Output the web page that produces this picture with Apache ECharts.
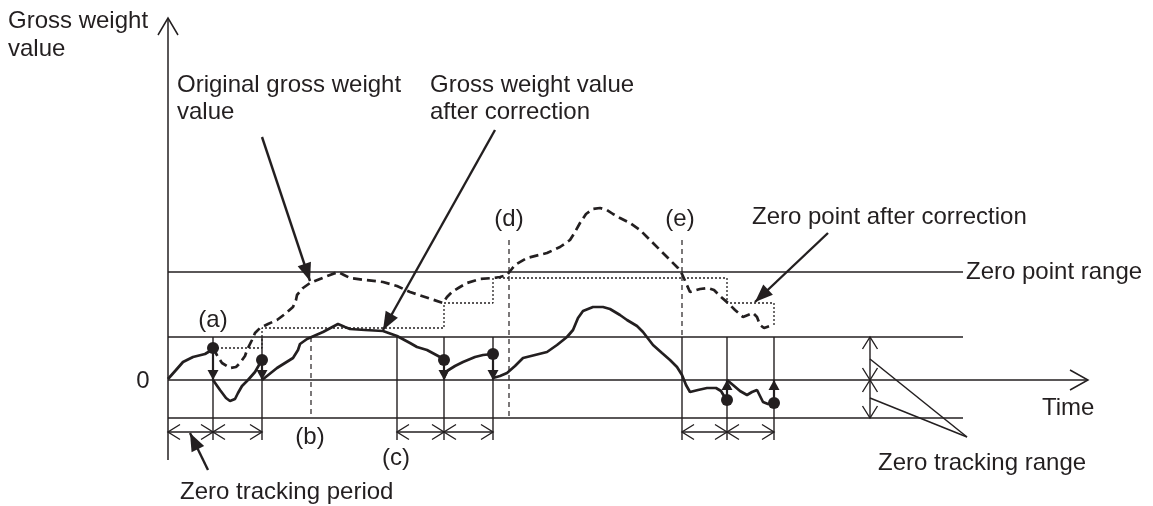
<!DOCTYPE html>
<html>
<head>
<meta charset="utf-8">
<script src="https://cdn.jsdelivr.net/npm/echarts@6/dist/echarts.min.js"></script>
<style>
  html, body { margin: 0; background: #fff; }
  #chart { width: 1153px; height: 506px; }
</style>
</head>
<body>
<div id="chart"></div>
<script>
// schematic diagram: no real units, so time / weight live in a page-sized space
const INK = '#231f20';
const FONT = '"Liberation Sans", Arial, sans-serif';

// horizontal reference levels (zero point range, tracking upper, tracking lower)
const levelY = [272, 337, 418];
const zeroLevel = 380;
const axisLeft = 168;
const levelRight = 963;

// zero tracking periods
const trackingBounds = [213, 262, 397, 444, 493, 682, 727, 774];
const periodStarts = [168, 213, 397, 444, 682, 727];
const periodEnds = [213, 262, 444, 493, 727, 774];

// gross weight value after correction (solid), one piece per tracking step
const correctedSegments = [
  [[168,379],[176,370],[183,362],[193,357],[205,354],[210,351],[213,348]],
  [[213,380],[220,390],[226,398],[230,401],[235,399],[238,393],[242,386],[248,380],[255,372],[259,365],[262,360]],
  [[262,380],[277,368],[293,358],[298,350],[300,344],[307,339],[323,332],[338,324],[345,327],[350,329],[365,330],
   [383,331],[397,336],[410,343],[417,347],[427,350],[440,357],[444,360]],
  [[444,378],[447,371],[455,366],[463,362],[475,357],[483,355],[493,354]],
  [[493,378],[500,376],[507,373],[515,366],[523,358],[535,355],[547,352],[557,345],[567,337],[573,330],[578,318],
   [583,311],[593,307],[603,307],[610,309],[620,315],[627,320],[637,326],[643,332],[653,345],[662,353],[670,360],
   [677,367],[682,375],[686,385],[690,392],[698,390],[707,388],[716,388],[721,391],[724,396],[727,400]],
  [[727,380],[733,385],[740,391],[747,395],[752,392],[757,390],[760,396],[763,402],[768,404],[774,403]]
];

// original gross weight value (dashed)
const originalCurve = [
  [213,348],[218,357],[222,363],[230,368],[236,367],[240,363],[245,356],[247,350],[252,340],[255,333],[260,328],
  [268,324],[277,320],[285,314],[293,307],[296,300],[297,295],[303,288],[310,283],[320,279],[330,275],[338,272],
  [344,275],[350,278],[365,280],[383,282],[397,286],[410,292],[425,297],[443,303],[447,297],[452,292],[460,287],
  [467,283],[480,279],[493,278],[500,277],[507,275],[511,270],[515,265],[527,258],[547,253],[560,247],[570,240],
  [575,232],[580,223],[586,214],[593,209],[600,208],[607,210],[613,214],[620,218],[630,223],[640,230],[647,237],
  [653,243],[662,252],[670,260],[678,268],[682,274],[686,283],[690,292],[700,289],[708,288],[714,290],[720,296],
  [728,303],[735,310],[743,317],[748,315],[753,313],[757,317],[760,325],[764,328],[767,327],[773,325]
];

// zero point after correction (dotted steps)
const zeroPointSteps = [
  [213,348],[262,348],[262,328],[444,328],[444,303],[493,303],[493,278],[727,278],[727,303],[774,303],[774,325]
];

// where tracking happens: weight value before correction
const trackDots = [[213,348],[262,360],[444,360],[493,354],[727,400],[774,403]];

// dashed markers (b), (d), (e): [t, top, bottom]
const markerLines = [[311,337,418],[509,240,418],[682,240,337]];

// annotation pointers: [fromT, fromW, toT, toW]
const leaders = [[262,137,310,281],[495,130,383,330],[828,233,755,302],[208,470,190,433]];
const rangeLeaders = [[870,359,967,437],[870,398,967,437]];
const rangeArrowT = 870;

const labels = [
  ['Gross weight', 8, 21, 'left'],
  ['value', 8, 49, 'left'],
  ['Original gross weight', 177, 85, 'left'],
  ['value', 177, 112, 'left'],
  ['Gross weight value', 430, 85, 'left'],
  ['after correction', 430, 112, 'left'],
  ['(a)', 213, 320, 'center'],
  ['(b)', 310, 437, 'center'],
  ['(c)', 396, 458, 'center'],
  ['(d)', 509, 219, 'center'],
  ['(e)', 680, 219, 'center'],
  ['Zero point after correction', 752, 217, 'left'],
  ['Zero point range', 966, 272, 'left'],
  ['0', 143, 381, 'center'],
  ['Time', 1042, 408, 'left'],
  ['Zero tracking range', 878, 463, 'left'],
  ['Zero tracking period', 180, 492, 'left']
];

function head(tip, from, kind, len, half, width) {
  const dx = tip[0] - from[0], dy = tip[1] - from[1];
  const d = Math.hypot(dx, dy) || 1;
  const ux = dx / d, uy = dy / d;
  const bx = tip[0] - ux * len, by = tip[1] - uy * len;
  const l = [bx - uy * half, by + ux * half];
  const r = [bx + uy * half, by - ux * half];
  if (kind === 'open') {
    return { type: 'polyline', shape: { points: [l, tip, r] }, style: { stroke: INK, lineWidth: width, fill: null } };
  }
  return { type: 'polygon', shape: { points: [l, tip, r] }, style: { fill: INK } };
}

function segSeries(data, opt) {
  return {
    type: 'custom',
    silent: true,
    z: opt.z || 2,
    data: data,
    renderItem: function (params, api) {
      const a = api.coord([api.value(0), api.value(1)]);
      const b = api.coord([api.value(2), api.value(3)]);
      const children = [{
        type: 'line',
        shape: { x1: a[0], y1: a[1], x2: b[0], y2: b[1] },
        style: { stroke: INK, lineWidth: opt.width || 1.4, lineDash: opt.dash || null }
      }];
      if (opt.end) children.push(head(b, a, opt.end, opt.len, opt.half, opt.width || 1.4));
      if (opt.start) children.push(head(a, b, opt.start, opt.len, opt.half, opt.width || 1.4));
      return { type: 'group', children: children };
    }
  };
}

const chart = echarts.init(document.getElementById('chart'));

const series = [];

// reference levels
series.push(segSeries(levelY.map(y => [axisLeft, y, levelRight, y]), { width: 1.4 }));
// tracking boundaries
series.push(segSeries(trackingBounds.map(t => [t, levelY[1], t, 440]), { width: 1.4 }));
// dashed markers
series.push(segSeries(markerLines.map(m => [m[0], m[1], m[0], m[2]]), { width: 1.2, dash: [5, 4] }));
// axes
series.push(segSeries([[axisLeft, 460, axisLeft, 18]], { width: 1.5, end: 'open', len: 17, half: 10 }));
series.push(segSeries([[axisLeft, zeroLevel, 1088, zeroLevel]], { width: 1.5, end: 'open', len: 18, half: 10 }));
// zero tracking period arrows
series.push(segSeries(periodStarts.map((s, i) => [s, 432, periodEnds[i], 432]),
  { width: 1.4, start: 'open', end: 'open', len: 12, half: 7.5 }));
// zero tracking range arrows
series.push(segSeries([[rangeArrowT, levelY[1], rangeArrowT, zeroLevel], [rangeArrowT, zeroLevel, rangeArrowT, levelY[2]]],
  { width: 1.4, start: 'open', end: 'open', len: 12, half: 7.5 }));
series.push(segSeries(rangeLeaders, { width: 1.5 }));
// pointers from labels
series.push(segSeries(leaders, { width: 2.4, end: 'filled', len: 18, half: 7, z: 5 }));
// correction arrows from dot to zero line
series.push(segSeries(trackDots.map(p => [p[0], p[1], p[0], zeroLevel]), { width: 2.2, end: 'filled', len: 10, half: 5.5, z: 5 }));

correctedSegments.forEach(seg => {
  series.push({
    type: 'line', data: seg, showSymbol: false, smooth: false, silent: true, z: 4,
    lineStyle: { color: INK, width: 2.7 }
  });
});

series.push({
  type: 'line', data: originalCurve, showSymbol: false, silent: true, z: 4,
  lineStyle: { color: INK, width: 2.7, type: [9, 5] }
});

series.push({
  type: 'line', data: zeroPointSteps, showSymbol: false, silent: true, z: 3,
  lineStyle: { color: INK, width: 1.3, type: [2, 2] }
});

series.push({
  type: 'scatter', data: trackDots, symbol: 'circle', symbolSize: 12, silent: true, z: 6,
  itemStyle: { color: INK, opacity: 1 }
});

series.push({
  type: 'custom',
  silent: true,
  z: 7,
  data: labels.map(l => [l[1], l[2]]),
  renderItem: function (params, api) {
    const p = api.coord([api.value(0), api.value(1)]);
    const l = labels[params.dataIndex];
    return {
      type: 'text',
      x: p[0], y: p[1],
      style: {
        text: l[0], fill: INK, font: '24px ' + FONT,
        align: l[3], verticalAlign: 'middle'
      }
    };
  }
});

chart.setOption({
  animation: false,
  backgroundColor: '#ffffff',
  grid: { left: 0, right: 0, top: 0, bottom: 0 },
  xAxis: { type: 'value', min: 0, max: 1153, show: false },
  yAxis: { type: 'value', min: 0, max: 506, inverse: true, show: false },
  series: series
});
</script>
</body>
</html>
